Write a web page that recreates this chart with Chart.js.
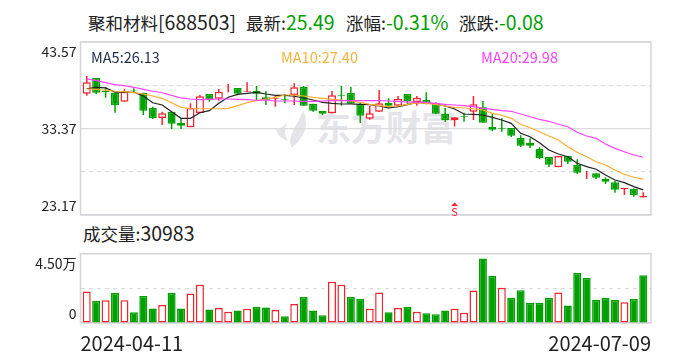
<!DOCTYPE html>
<html>
<head>
<meta charset="utf-8">
<title>聚和材料</title>
<script src="https://cdn.jsdelivr.net/npm/chart.js@4"></script>
<style>
  html, body { margin: 0; padding: 0; background: #fff; width: 688px; height: 360px; overflow: hidden; }
  body { position: relative; font-family: "Noto Sans CJK SC", sans-serif; color: #222; }
  canvas { position: absolute; left: 0; }
  .txt { position: absolute; white-space: nowrap; line-height: 20px; }
  .big { font-size: 17.5px; }
  .num { font-size: 19.5px; }
  .ma { font-size: 14.5px; }
  .green { color: #00a000; }
  #watermark { position: absolute; left: 275px; top: 108px; width: 185px; height: 42px; color: #e4e4e9; }
  #watermark span { position: absolute; left: 41px; top: -3px; font-size: 35px; line-height: 42px; font-weight: 700; white-space: nowrap; }
  #watermark svg { position: absolute; left: 0; top: 1px; }
</style>
</head>
<body>
<div id="watermark">
  <svg width="36" height="40" viewBox="0 0 36 40"><path fill="#e4e4e9" d="M28 1 C31 8 32 14 30 20 C28 28 22 34 17 39 C14 34 15 28 18 22 C21 16 26 8 28 1 Z M16 7 C12 12 10 17 10 22 C10 26 11 29 13 32 C7 30 2 26 1 20 C7 20 12 14 16 7 Z"/></svg>
  <span>东方财富</span>
</div>
<div class="txt big" style="left:88px;top:12px">聚和材料<span class="num">[688503]</span></div>
<div class="txt big" style="left:246px;top:12px">最新:<span class="num green">25.49</span></div>
<div class="txt big" style="left:346px;top:12px">涨幅:<span class="num green">-0.31%</span></div>
<div class="txt big" style="left:459px;top:12px">涨跌:<span class="num green">-0.08</span></div>
<div class="txt big" style="left:83px;top:223px">成交量:<span class="num">30983</span></div>
<canvas id="kline" width="688" height="240" style="top:0"></canvas>
<canvas id="volume" width="688" height="130" style="top:230px"></canvas>
<div class="txt ma" style="left:91px;top:47px;color:#1f2d46">MA5:26.13</div>
<div class="txt ma" style="left:281px;top:47px;color:#ffb03a">MA10:27.40</div>
<div class="txt ma" style="left:481px;top:47px;color:#ff40ff">MA20:29.98</div>
<script>
// 日K数据,从图上读的
const opens = [37.47,39.32,37.79,37.59,36.53,37.85,37.59,35.79,34.61,35.35,
  34.02,33.51,35.20,37.44,36.88,38.23,38.15,37.67,37.79,37.05,
  36.85,36.85,37.32,38.26,36.29,35.43,35.16,37.32,37.56,36.29,
  34.53,35.35,36.38,36.06,37.44,36.49,36.73,36.29,35.08,34.34,
  34.84,35.35,35.87,33.55,33.39,33.43,32.25,31.70,30.95,30.01,
  28.79,30.13,29.07,27.85,28.09,27.42,27.03,26.20,26.24,25.22];
const closes = [38.82,37.59,37.67,36.14,37.71,37.76,35.47,34.61,35.16,33.94,
  33.70,35.79,37.17,36.73,37.71,38.30,37.47,37.76,37.47,36.75,
  36.93,36.77,38.23,36.06,35.47,35.12,37.28,37.24,36.29,34.88,
  35.16,36.34,36.06,36.88,36.61,37.00,36.22,35.12,34.37,34.69,
  34.76,36.22,34.05,33.23,33.31,32.52,31.34,31.34,29.89,29.10,
  30.13,29.46,28.16,27.92,27.57,27.10,26.15,26.35,25.53,25.40];
const highs = [39.56,39.32,38.26,37.59,38.03,38.11,37.59,35.94,35.35,35.35,
  34.57,36.34,37.32,37.44,38.03,38.62,38.15,38.82,38.38,37.79,
  37.20,37.44,38.70,38.38,36.29,35.43,37.79,38.42,38.26,36.46,
  36.06,37.91,36.93,37.20,37.44,37.20,37.64,36.46,35.82,34.69,
  35.23,37.20,36.61,35.08,34.57,33.43,32.57,32.21,31.19,30.01,
  30.13,30.13,29.74,28.36,28.09,27.62,27.18,26.35,26.32,25.85];
const lows = [37.24,37.44,37.00,35.23,36.53,37.52,34.96,34.49,33.78,33.31,
  33.31,33.51,35.20,36.53,36.65,37.64,37.28,37.67,36.65,36.14,
  35.94,36.34,36.14,36.06,35.35,34.96,35.16,36.06,36.29,34.02,
  34.41,35.35,35.70,36.06,36.18,36.06,36.22,35.12,34.14,33.61,
  34.17,34.37,34.05,33.04,32.99,32.37,31.19,31.07,29.74,28.83,
  28.79,29.18,28.00,27.42,27.42,26.83,25.80,25.53,25.33,25.22];
const ma5 = [38.06,38.23,38.15,37.67,37.67,37.64,37.20,36.41,36.14,35.35,
  34.57,34.57,35.23,35.47,36.34,37.05,37.40,37.52,37.64,37.44,
  37.28,37.28,37.17,36.97,36.73,36.46,36.34,36.26,36.26,36.22,
  36.18,36.02,35.79,35.94,36.18,36.46,36.41,36.26,36.02,35.67,
  35.08,35.04,34.96,34.69,34.37,33.98,32.80,32.40,31.70,30.83,
  30.36,30.04,29.27,28.87,28.56,27.89,27.30,26.98,26.51,26.13];
const ma10 = [38.03,37.99,37.91,37.76,37.71,37.59,37.44,37.20,36.93,36.41,
  35.87,35.70,35.70,35.70,35.70,35.75,36.06,36.41,36.65,36.85,
  37.05,37.32,37.32,37.20,37.05,36.93,36.81,36.73,36.61,36.46,
  36.22,36.06,35.94,36.02,36.22,36.38,36.34,36.22,36.02,35.87,
  35.79,35.70,35.55,35.16,34.93,34.57,33.87,33.46,32.99,32.49,
  32.01,31.22,30.56,30.04,29.45,29.07,28.48,27.97,27.62,27.40];
const ma20 = [39.24,39.01,38.77,38.54,38.42,38.23,37.99,37.76,37.59,37.28,
  36.97,36.85,36.77,36.81,36.85,36.85,36.81,36.77,36.70,36.73,
  36.61,36.61,36.61,36.58,36.58,36.61,36.65,36.65,36.65,36.65,
  36.65,36.65,36.61,36.58,36.49,36.49,36.46,36.34,36.22,36.14,
  36.06,35.94,35.75,35.63,35.47,35.40,35.08,34.76,34.45,34.22,
  33.87,33.58,32.92,32.49,32.21,31.54,31.03,30.63,30.25,29.98];
const volumes = [20400,14400,14800,19400,14800,6900,17500,9400,11700,19400,
  9400,19200,24800,8800,9800,7300,8100,9200,10600,10000,
  8500,4400,12300,16900,8100,5000,26700,24800,16900,15600,
  9200,19800,6900,9800,10600,7300,6300,5600,8100,9200,
  6700,21000,41900,30600,22900,16300,21300,13100,13100,16300,
  19800,11300,32500,29400,15000,16300,15000,13500,15600,30983];
// 成交量柱的涨跌,1红0绿
const volumeUp = [1,0,1,0,1,0,0,0,1,0,0,1,1,0,1,1,0,1,0,0,
  1,0,1,0,0,0,1,1,0,0,1,1,0,1,0,1,0,0,0,1,
  1,1,0,0,1,0,0,0,0,0,1,0,0,0,0,0,0,1,0,0];
const priceTicks = [23.17, 28.27, 33.37, 38.47, 43.57];
const priceLabels = ['23.17', '', '33.37', '', '43.57'];
const volumeTicks = [0, 22500, 45000];
const volumeLabels = ['0', '', '4.50万'];
const dateLabels = ['2024-04-11', '2024-07-09'];
const signalIndex = 39;

const RED = '#f5222d';
const GREEN = '#00a000';
const GRID = '#dcdcdc';
const xMin = -0.66, xMax = 59.82;
const fontFamily = '"Noto Sans CJK SC", sans-serif';

const isUp = i => closes[i] >= opens[i];

// 外框
const framePlugin = {
  id: 'frame',
  beforeDatasetsDraw(chart) {
    const a = chart.chartArea, ctx = chart.ctx;
    ctx.save();
    ctx.strokeStyle = '#d4d4da';
    ctx.lineWidth = 1.5;
    ctx.strokeRect(a.left, a.top, a.right - a.left, a.bottom - a.top);
    ctx.restore();
  }
};

// 底部的S信号标记
const signalPlugin = {
  id: 'signal',
  afterDatasetsDraw(chart) {
    const x = chart.scales.x.getPixelForValue(signalIndex);
    const bottom = chart.chartArea.bottom;
    const ctx = chart.ctx;
    ctx.save();
    ctx.fillStyle = RED;
    ctx.beginPath();
    ctx.moveTo(x, bottom - 12.5);
    ctx.lineTo(x - 3.5, bottom - 9);
    ctx.lineTo(x + 3.5, bottom - 9);
    ctx.fill();
    ctx.font = '11px ' + fontFamily;
    ctx.textAlign = 'center';
    ctx.textBaseline = 'bottom';
    ctx.fillText('S', x, bottom + 2);
    ctx.restore();
  }
};

function xScale(display) {
  return {
    type: 'linear', min: xMin, max: xMax, display: display, offset: false,
    grid: { display: false, offset: false },
    border: { display: false },
    afterBuildTicks: s => { s.ticks = [{ value: xMin }, { value: xMax }]; },
    afterFit: s => { if (display) s.height = 37; },
    ticks: {
      autoSkip: false, maxRotation: 0, align: 'inner', padding: 0, color: '#222',
      font: { family: fontFamily, size: 20 },
      callback: (v, i) => dateLabels[i]
    }
  };
}

// 顶部和底部的刻度文字要收进框内,靠两行标签错开半行
function yScale(min, max, tickValues, labels) {
  return {
    min: min, max: max,
    afterBuildTicks: s => { s.ticks = tickValues.map(v => ({ value: v })); },
    afterFit: s => { s.width = 80.5; },
    grid: { color: GRID, lineWidth: 1.2, drawTicks: false },
    border: {
      display: false,
      dash: c => (c.tick && labels[tickValues.indexOf(c.tick.value)] === '' ? [4, 4] : [])
    },
    ticks: {
      autoSkip: false, padding: 4, color: '#222',
      font: { family: fontFamily, size: 14, lineHeight: 1.4 },
      callback: (v, i) => {
        if (i === 0) return [labels[i], ''];
        if (i === labels.length - 1) return ['', labels[i]];
        return labels[i];
      }
    }
  };
}

const barBase = { type: 'bar', grouped: false, inflateAmount: 0, borderSkipped: false };

function maLine(values, color) {
  return {
    type: 'line', data: values.map((v, i) => ({ x: i, y: v })), order: 0,
    borderColor: color, borderWidth: 1.2, pointRadius: 0, tension: 0
  };
}

new Chart(document.getElementById('kline'), {
  data: {
    datasets: [
      maLine(ma20, '#ff40ff'),
      maLine(ma10, '#ffad2e'),
      maLine(ma5, '#222222'),
      { ...barBase, order: 1, barThickness: 8, borderWidth: 1.5,
        data: opens.map((v, i) => ({ x: i, y: [v, closes[i]] })),
        backgroundColor: opens.map((v, i) => (isUp(i) ? '#ffffff' : GREEN)),
        borderColor: opens.map((v, i) => (isUp(i) ? RED : GREEN)) },
      { ...barBase, order: 2, barThickness: 1.5, borderWidth: 0,
        data: lows.map((v, i) => ({ x: i, y: [v, highs[i]] })),
        backgroundColor: lows.map((v, i) => (isUp(i) ? RED : GREEN)) }
    ]
  },
  options: {
    responsive: false, animation: false,
    layout: { padding: { top: 42, right: 37, bottom: 25, left: 0 } },
    plugins: { legend: { display: false }, tooltip: { enabled: false } },
    scales: { x: xScale(false), y: yScale(23.17, 43.57, priceTicks, priceLabels) }
  },
  plugins: [framePlugin, signalPlugin]
});

new Chart(document.getElementById('volume'), {
  data: {
    datasets: [
      { ...barBase, barThickness: 8, borderWidth: 1.5,
        data: volumes.map((v, i) => ({ x: i, y: v })),
        backgroundColor: volumeUp.map(u => (u ? '#ffffff' : GREEN)),
        borderColor: volumeUp.map(u => (u ? RED : GREEN)) }
    ]
  },
  options: {
    responsive: false, animation: false,
    layout: { padding: { top: 21, right: 37, bottom: 0, left: 0 } },
    plugins: { legend: { display: false }, tooltip: { enabled: false } },
    scales: { x: xScale(true), y: yScale(0, 45000, volumeTicks, volumeLabels) }
  },
  plugins: [framePlugin]
});
</script>
</body>
</html>
